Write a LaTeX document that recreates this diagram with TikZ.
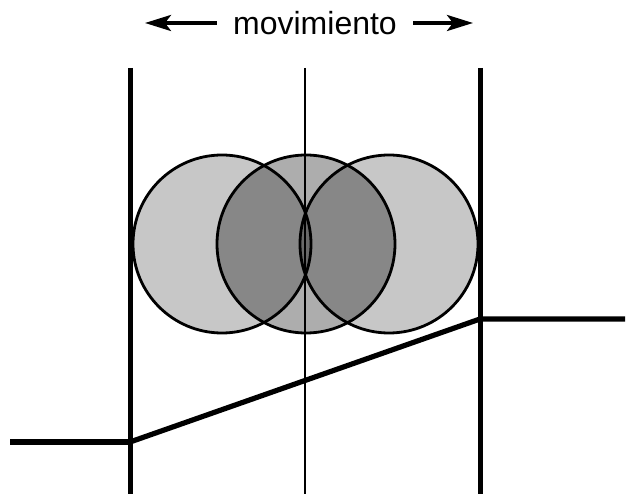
\documentclass[tikz,border=0pt]{standalone}
\usepackage{fontspec}
\setmainfont{Liberation Sans}
\usetikzlibrary{arrows.meta}
\tikzset{
  guia/.style={line width=#1, draw=black},
  disco/.style={circle, draw=black, line width=1.4pt, fill=black, fill opacity=#1,
                minimum size=89pt, inner sep=0pt},
  perfil/.style={line width=#1, draw=black},
  flecha/.style={-{Stealth[length=13pt,width=8pt,inset=3pt]}, line width=1.8pt},
}

\begin{document}
\begin{tikzpicture}[x=0.5pt, y=-0.5pt]
    \useasboundingbox (0,0) rectangle (627,496);
    % rotulo superior
    \node[font=\fontsize{16pt}{18pt}\selectfont, inner xsep=8pt, anchor=base] (lema) at (315,35) {movimiento};
    \coordinate (fi) at (145,23);
    \coordinate (fd) at (473,23);
    \draw[flecha] (fi -| lema.west) -- (fi);
    \draw[flecha] (fd -| lema.east) -- (fd);
    % posiciones del disco
    \node[disco=0.22] (izq) at (222,244) {};
    \node[disco=0.22] (der) at (389,244) {};
    \node[disco=0.32] (cen) at (306,244) {};
    % guias verticales
    \coordinate (g1) at (130,68);  \coordinate (h1) at (130,494);
    \coordinate (g2) at (305,68);  \coordinate (h2) at (305,494);
    \coordinate (g3) at (480,68);  \coordinate (h3) at (480,494);
    \draw[guia=2.5pt] (g1) -- (h1);
    \draw[guia=1.4pt] (g2) -- (h2);
    \draw[guia=2.5pt] (g3) -- (h3);
    % perfil
    \coordinate (p0) at (10,442);
    \coordinate (p1) at (130,442);
    \coordinate (p2) at (480,319);
    \coordinate (p3) at (625,319);
    \draw[perfil=3.3pt] (p0) -- (p1);
    \draw[perfil=2.6pt] (p1) -- (p2) -- (p3);
  \end{tikzpicture}
\end{document}
